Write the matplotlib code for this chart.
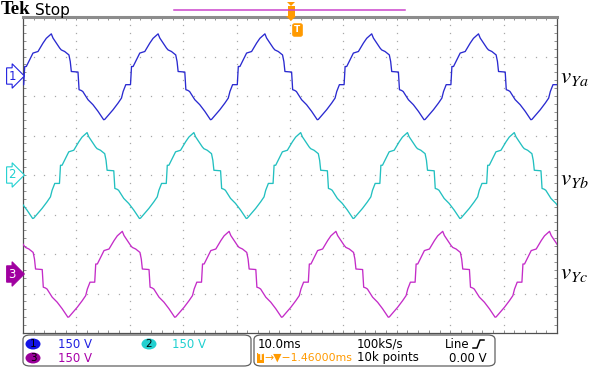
import matplotlib
matplotlib.use("Agg")
import matplotlib.pyplot as plt
import numpy as np
from matplotlib.lines import Line2D
from matplotlib.patches import FancyBboxPatch, Ellipse, Polygon, Rectangle

W, H = 589, 374

# one measured cycle of the staircase phase voltage, time relative to its peak (ms) and volts
CYCLE_MS = [-10.0, -8.43, -7.5, -6.86, -6.55, -6.05, -5.17, -4.98, -4.68, -4.05, -3.43,
            -2.49, -1.55, -0.94, 0.0, 0.32, 0.94, 1.57, 1.87, 2.5, 3.3, 3.55, 3.75,
            5.0, 5.2, 5.6, 5.9, 6.87, 7.5, 7.8, 8.74, 9.8]
CYCLE_V = [-164, -127, -102, -83, -58, -32, -32, 37, 37, 63, 88,
           94, 126, 144, 161, 145, 126, 107, 100, 94, 81, 56, 18,
           16, -51, -54, -58, -89, -102, -108, -133, -165]

# peak times (ms) of each channel
PEAKS_A = [5.3, 25.3, 45.3, 65.3, 85.3, 105.3]
PEAKS_B = [-8.0, 12.0, 32.0, 52.0, 72.0, 92.0]
PEAKS_C = [-1.4, 18.6, 38.6, 58.6, 78.6, 98.6]

CH_NAMES = ["1", "2", "3"]
CH_LABELS = [r"$v_{Ya}$", r"$v_{Yb}$", r"$v_{Yc}$"]
CH_POS = [2.5, 0.0, -2.5]          # channel offset, divisions
VOLTS_PER_DIV = 150
TIME_PER_DIV = 10.0                # ms

TRACE_COLORS = ["#2a2ad0", "#22c0c0", "#c42cc8"]
TEXT_COLORS = ["#2020e0", "#20d0d0", "#a800a8"]
ORANGE = "#ff9a00"


def fx(x):
    return x / W


def fy(y):
    return 1 - y / H


fig = plt.figure(figsize=(W / 100, H / 100), dpi=100)
ax = fig.add_axes([fx(23), fy(333), (557 - 23) / W, (333 - 17) / H])
ax.set_xlim(0, 10 * TIME_PER_DIV)
ax.set_ylim(-4, 4)

# graticule dots
for k in range(1, 10):
    yy = np.arange(-4, 4.01, 0.2)
    ax.plot(np.full_like(yy, k * TIME_PER_DIV), yy, ls="none", marker="s",
            ms=0.9, mec="none", mfc="#a8a8a8", zorder=1)
for k in range(-3, 4):
    xx = np.arange(0, 100.01, 2.0)
    ax.plot(xx, np.full_like(xx, k), ls="none", marker="s",
            ms=0.9, mec="none", mfc="#a8a8a8", zorder=1)

ax.set_xticks(np.arange(0, 101, 2.0))
ax.set_yticks(np.arange(-4, 4.01, 0.2))
ax.tick_params(direction="in", length=2.5, width=0.6, color="#808080",
               top=True, right=True, labelbottom=False, labelleft=False)
for side in ["left", "right", "bottom"]:
    ax.spines[side].set_color("#505050")
    ax.spines[side].set_linewidth(0.9)
ax.spines["top"].set_color("#8c8c8c")
ax.spines["top"].set_linewidth(2.2)

# traces
for peaks, pos, col in zip([PEAKS_A, PEAKS_B, PEAKS_C], CH_POS, TRACE_COLORS):
    t = np.concatenate([p + np.array(CYCLE_MS) for p in peaks])
    v = np.tile(np.array(CYCLE_V, dtype=float), len(peaks))
    ax.plot(t, pos + v / VOLTS_PER_DIV, color=col, lw=0.95, zorder=3)

# right-hand labels
for lab, y in zip(CH_LABELS, [76, 178, 272]):
    fig.text(fx(560), fy(y), lab, fontsize=16.5, ha="left", va="center",
             math_fontfamily="stix")

# channel markers on the left
marker_y = [76, 175, 274]
for i, (name, y) in enumerate(zip(CH_NAMES, marker_y)):
    if i < 2:
        fc, tc, ec = "white", TEXT_COLORS[i], TEXT_COLORS[i]
    else:
        fc, tc, ec = "#a000a0", "white", "#a000a0"
    fig.text(fx(12), fy(y), name, fontsize=8.5, ha="center", va="center", color=tc,
             bbox=dict(boxstyle="rarrow,pad=0.14", fc=fc, ec=ec, lw=0.8))

# header
fig.text(fx(1), fy(10), "Tek", fontsize=13.5, fontweight="bold",
         family="Liberation Serif", ha="left", va="center")
fig.text(fx(35), fy(10), "Stop", fontsize=11, ha="left", va="center")
fig.add_artist(Line2D([fx(174), fx(405)], [fy(10), fy(10)], color="#cc44cc", lw=1.1))

# trigger position markers
fig.add_artist(Polygon([[fx(287), fy(2)], [fx(295), fy(2)], [fx(291), fy(6)]],
                       closed=True, fc=ORANGE, ec="none"))
fig.add_artist(Rectangle((fx(288), fy(16)), 7 / W, 10 / H, fc=ORANGE, ec="none"))
fig.add_artist(Polygon([[fx(286), fy(16)], [fx(296), fy(16)], [fx(291), fy(21)]],
                       closed=True, fc=ORANGE, ec="none"))
fig.text(fx(297.5), fy(30), "T", fontsize=6.5, fontweight="bold", color="white",
         ha="center", va="center",
         bbox=dict(boxstyle="round,pad=0.2", fc=ORANGE, ec=ORANGE, lw=0.5))

# bottom info panels
for x0, x1 in [(23, 251), (254, 495)]:
    fig.add_artist(FancyBboxPatch((fx(x0), fy(366)), (x1 - x0) / W, (366 - 335) / H,
                                  boxstyle="round,pad=0,rounding_size=0.012",
                                  fc="white", ec="#606060", lw=0.9))

oval_fill = ["#1414e6", "#22d0d0", "#990099"]
for (cx, cy, tx), name, fc, tc in zip([(33, 344, 58), (149, 344, 172), (33, 358, 58)],
                                      CH_NAMES, oval_fill, TEXT_COLORS):
    fig.add_artist(Ellipse((fx(cx), fy(cy)), 15 / W, 11 / H, fc=fc, ec="none"))
    fig.text(fx(cx), fy(cy), name, fontsize=7.5, ha="center", va="center", color="black")
    fig.text(fx(tx), fy(cy), "150 V", fontsize=8.5, ha="left", va="center", color=tc)

fig.text(fx(258), fy(344), "10.0ms", fontsize=8.5, ha="left", va="center")
fig.text(fx(357), fy(344), "100kS/s", fontsize=8.5, ha="left", va="center")
fig.text(fx(445), fy(344), "Line", fontsize=8.5, ha="left", va="center")
fig.add_artist(Line2D([fx(473), fx(477), fx(480), fx(484)],
                      [fy(348), fy(348), fy(340), fy(340)], color="black", lw=1.1))

fig.add_artist(Rectangle((fx(257), fy(363)), 7 / W, 10 / H, fc=ORANGE, ec="none"))
fig.text(fx(260.5), fy(358), "T", fontsize=6, fontweight="bold", color="white",
         ha="center", va="center")
fig.text(fx(264), fy(358), "→▼−1.46000ms", fontsize=7.8, ha="left", va="center",
         color=ORANGE)
fig.text(fx(357), fy(358), "10k points", fontsize=8.5, ha="left", va="center")
fig.text(fx(487), fy(358), "0.00 V", fontsize=8.5, ha="right", va="center")

fig.savefig("out.png", dpi=100)
